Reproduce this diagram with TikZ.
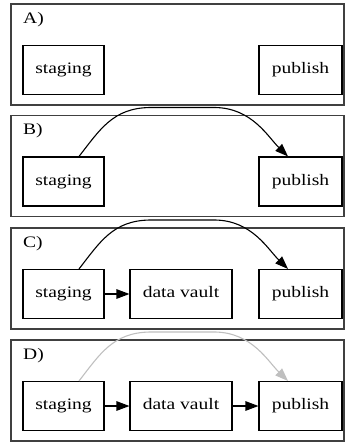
\documentclass[tikz,border=0pt]{standalone}
\usepackage{fontspec}
\setmainfont{Liberation Serif}[FakeStretch=1.22]
\usetikzlibrary{arrows.meta,calc}
\tikzset{
  panel/.style={draw=black!75, line width=1.4pt, rectangle, inner sep=0pt, minimum width=333pt, minimum height=101pt},
  box/.style={draw=black, line width=1.1pt, rectangle, inner sep=0pt, minimum height=49pt, text height=11pt, text depth=3.5pt, font=\fontsize{16pt}{19pt}\selectfont},
  lbl/.style={inner sep=0pt, anchor=base west, font=\fontsize{16pt}{19pt}\selectfont},
  tipa/.style={-{Triangle[length=13pt,width=9.5pt]}},
  flow/.style={tipa, line width=1.1pt, draw=black},
  hop/.style={tipa, line width=1.1pt, draw=black},
  hopgray/.style={tipa, line width=1.1pt, draw=black!25},
}
\begin{document}
\begin{tikzpicture}[x=1pt,y=-1pt]
\useasboundingbox (0,0) rectangle (345,443);
% Panel A (top 4)
\node[panel] (pA) at (177.5,54.5) {};
\node[lbl] (lA) at (23,23.5) {A)};
\node[box, minimum width=81pt] (sA) at (63.5,70) {staging};
\node[box, minimum width=83pt] (uA) at (300.5,70) {publish};
% Panel B (top 115.5)
\node[panel] (pB) at (177.5,166) {};
\node[lbl] (lB) at (23,135) {B)};
\node[box, minimum width=81pt] (sB) at (63.5,181.5) {staging};
\node[box, minimum width=83pt] (uB) at (300.5,181.5) {publish};
\draw[hop] ($(sB.north)+(15.5,0)$) .. controls (100,129.5) and (113,108) .. (150,107.5) -- (215,107.5) .. controls (252,108) and (268,137) .. ($(uB.north)+(-12.5,0)$);
% Panel C (top 228)
\node[panel] (pC) at (177.5,278.5) {};
\node[lbl] (lC) at (23,247.5) {C)};
\node[box, minimum width=81pt] (sC) at (63.5,294) {staging};
\node[box, minimum width=102pt] (dC) at (181,294) {data vault};
\node[box, minimum width=83pt] (uC) at (300.5,294) {publish};
\draw[flow] (sC) -- (dC);
\draw[hop] ($(sC.north)+(15.5,0)$) .. controls (100,242) and (113,220.5) .. (150,220) -- (215,220) .. controls (252,220.5) and (268,249.5) .. ($(uC.north)+(-12.5,0)$);
% Panel D (top 340)
\node[panel] (pD) at (177.5,390.5) {};
\node[lbl] (lD) at (23,359.5) {D)};
\node[box, minimum width=81pt] (sD) at (63.5,406) {staging};
\node[box, minimum width=102pt] (dD) at (181,406) {data vault};
\node[box, minimum width=83pt] (uD) at (300.5,406) {publish};
\draw[flow] (sD) -- (dD);
\draw[flow] (dD) -- (uD);
\draw[hopgray] ($(sD.north)+(15.5,0)$) .. controls (100,354) and (113,332.5) .. (150,332) -- (215,332) .. controls (252,332.5) and (268,361.5) .. ($(uD.north)+(-12.5,0)$);
\end{tikzpicture}
\end{document}
